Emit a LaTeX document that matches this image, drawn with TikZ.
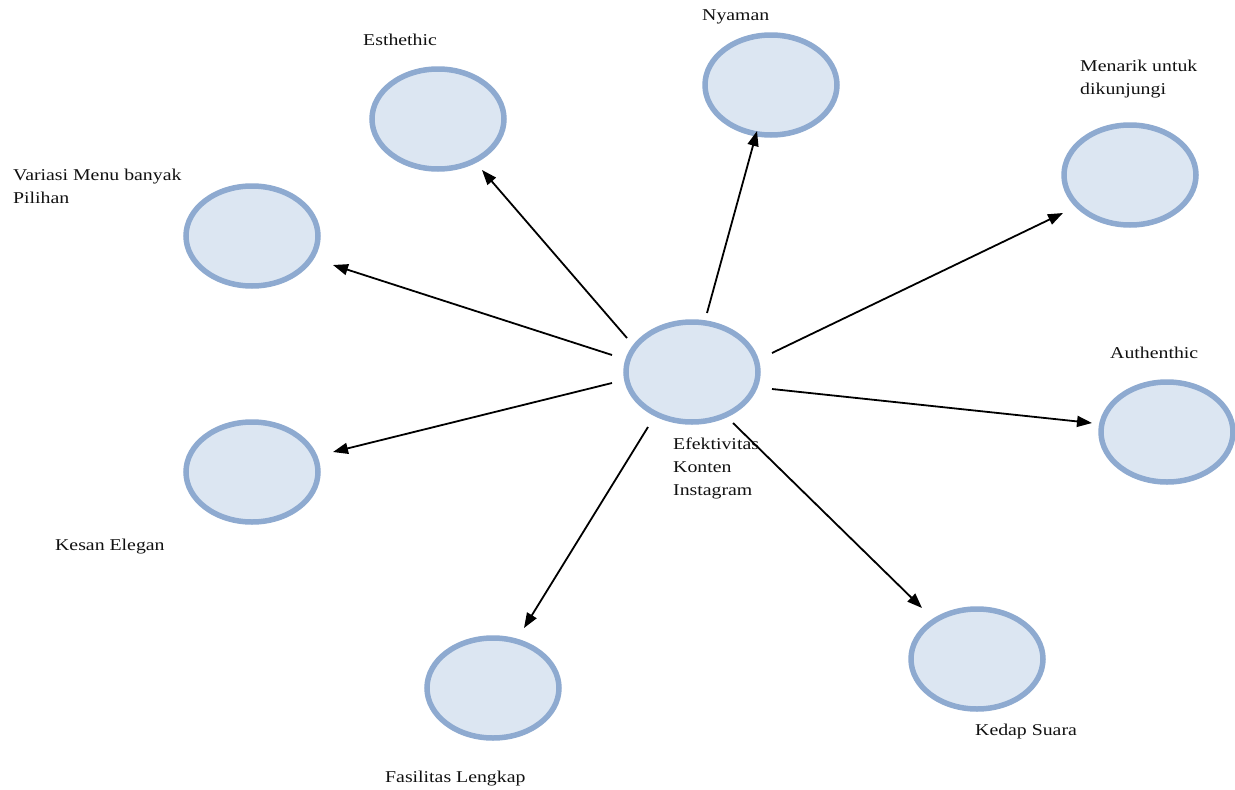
\documentclass[tikz,border=0pt]{standalone}
\usepackage{fontspec}
\setmainfont[FakeStretch=1.2]{Liberation Serif}
\usetikzlibrary{arrows.meta,shapes.geometric}
\definecolor{bubfill}{HTML}{DCE6F2}
\definecolor{bubline}{HTML}{8EAAD0}
\definecolor{txt}{HTML}{111111}
\begin{document}
\begin{tikzpicture}[x=1pt,y=-1pt,
  bubble/.style={ellipse,draw=bubline,fill=bubfill,line width=5.5pt,
    minimum width=132pt,minimum height=100pt,inner sep=0pt},
  lbl/.style={anchor=base west,inner sep=0pt,text=txt,
    font=\fontsize{16.5}{23}\selectfont,align=left},
  arr/.style={-{Triangle[length=15pt,width=11pt]},line width=1.8pt,black}]
\useasboundingbox[fill=white] (0,0) rectangle (1235,790);

\node[bubble] (c)  at (692,372) {};
\node[bubble] (E)  at (438,119) {};
\node[bubble] (N)  at (771,85) {};
\node[bubble] (M)  at (1130,175) {};
\node[bubble] (V)  at (252,236) {};
\node[bubble] (K)  at (252,472) {};
\node[bubble] (A)  at (1167,432) {};
\node[bubble] (F)  at (493,688) {};
\node[bubble] (Kd) at (977,659) {};

\node[lbl] (lc)  at (673,495) {Efektivitas\\Konten\\Instagram};
\node[lbl] (lE)  at (363,45) {Esthethic};
\node[lbl] (lN)  at (702,20) {Nyaman};
\node[lbl] (lM)  at (1080,94) {Menarik untuk\\dikunjungi};
\node[lbl] (lV)  at (13,203) {Variasi Menu banyak\\Pilihan};
\node[lbl] (lA)  at (1110,358) {Authenthic};
\node[lbl] (lK)  at (55,550) {Kesan Elegan};
\node[lbl] (lF)  at (385,782) {Fasilitas Lengkap};
\node[lbl] (lKd) at (975,735) {Kedap Suara};

\draw[arr] ([shift={(-65,-34)}]c.center) -- ([shift={(44,51)}]E.center);
\draw[arr] ([shift={(15,-59)}]c.center) -- ([shift={(-14,46)}]N.center);
\draw[arr] ([shift={(80,-19)}]c.center) -- ([shift={(-67,38)}]M.center);
\draw[arr] ([shift={(-80,-17)}]c.center) -- ([shift={(81,29)}]V.center);
\draw[arr] ([shift={(-80,11)}]c.center) -- ([shift={(81,-20)}]K.center);
\draw[arr] ([shift={(80,17)}]c.center) -- ([shift={(-75,-9)}]A.center);
\draw[arr] ([shift={(-44,55)}]c.center) -- ([shift={(31,-60)}]F.center);
\draw[arr] ([shift={(41,51)}]c.center) -- ([shift={(-55,-51)}]Kd.center);
\end{tikzpicture}
\end{document}
